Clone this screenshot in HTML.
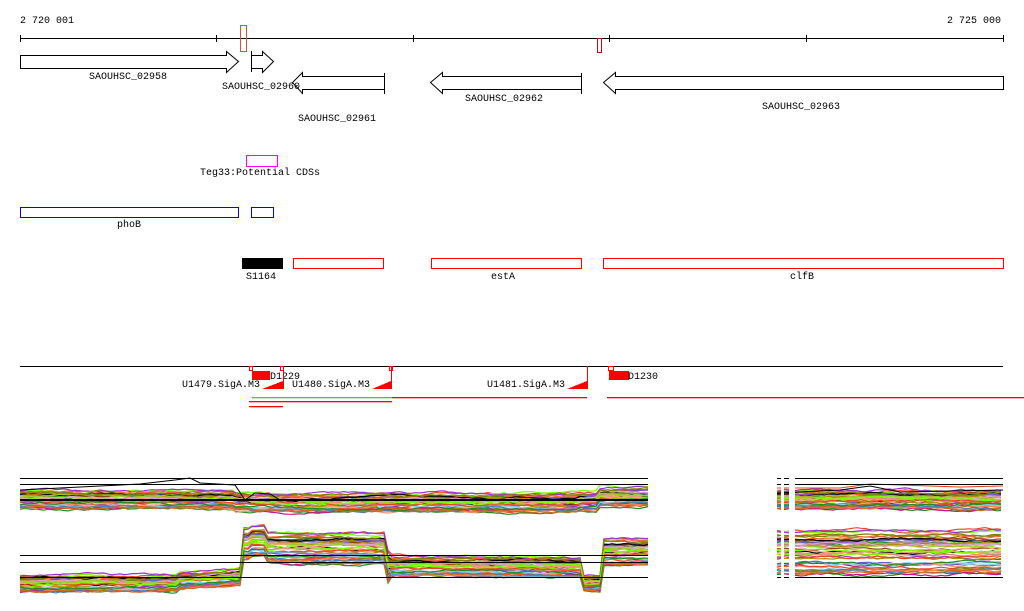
<!DOCTYPE html>
<html><head><meta charset="utf-8"><style>
body{margin:0;background:#fff;width:1024px;height:611px;overflow:hidden}
svg{display:block}
text{font-family:"Liberation Mono",monospace;font-size:10px;fill:#000}
</style></head><body>
<svg id="s" width="1024" height="611" xmlns="http://www.w3.org/2000/svg" shape-rendering="crispEdges">
<text x="20" y="23">2 720 001</text>
<text x="947" y="23">2 725 000</text>
<line x1="20" y1="38.5" x2="1003" y2="38.5" stroke="#000"/>
<g stroke="#000">
<line x1="20.5" y1="35" x2="20.5" y2="42"/><line x1="216.5" y1="35" x2="216.5" y2="42"/><line x1="413.5" y1="35" x2="413.5" y2="42"/><line x1="609.5" y1="35" x2="609.5" y2="42"/><line x1="806.5" y1="35" x2="806.5" y2="42"/><line x1="1003.5" y1="35" x2="1003.5" y2="42"/>
</g>
<rect x="240.5" y="25.5" width="6" height="26" fill="none" stroke="#e05030"/>
<rect x="597.5" y="38.5" width="4" height="14" fill="none" stroke="#b01010"/>
<g fill="#fff" stroke="#000" shape-rendering="auto">
<polygon points="20.5,55.5 226.5,55.5 226.5,51.5 238.5,61.5 226.5,72.5 226.5,68.5 20.5,68.5"/>
<polygon points="251.5,55.5 262.5,55.5 262.5,51.5 273.5,61.5 262.5,72.5 262.5,68.5 251.5,68.5"/>
<polygon points="384.5,76.5 302.5,76.5 302.5,72.5 292.5,82.5 302.5,93.5 302.5,89.5 384.5,89.5"/>
<polygon points="581.5,76.5 442.5,76.5 442.5,72.5 430.5,82.5 442.5,93.5 442.5,89.5 581.5,89.5"/>
<polygon points="1003.5,76.5 615.5,76.5 615.5,72.5 603.5,82.5 615.5,93.5 615.5,89.5 1003.5,89.5"/>
</g>
<g stroke="#000"><line x1="251.5" y1="51" x2="251.5" y2="72"/><line x1="384.5" y1="73" x2="384.5" y2="94"/><line x1="581.5" y1="73" x2="581.5" y2="94"/></g>
<text x="89" y="79">SAOUHSC_02958</text>
<text x="222" y="89">SAOUHSC_02960</text>
<text x="298" y="121">SAOUHSC_02961</text>
<text x="465" y="101">SAOUHSC_02962</text>
<text x="762" y="109">SAOUHSC_02963</text>
<rect x="246.5" y="155.5" width="31" height="11" fill="none" stroke="#f0f"/>
<text x="200" y="175">Teg33:Potential CDSs</text>
<rect x="20.5" y="207.5" width="218" height="10" fill="none" stroke="#00f"/>
<rect x="251.5" y="207.5" width="22" height="10" fill="none" stroke="#00f"/>
<text x="117" y="227">phoB</text>
<rect x="242" y="258" width="41" height="11" fill="#000"/>
<rect x="293.5" y="258.5" width="90" height="10" fill="none" stroke="#f00"/>
<rect x="431.5" y="258.5" width="150" height="10" fill="none" stroke="#f00"/>
<rect x="603.5" y="258.5" width="400" height="10" fill="none" stroke="#f00"/>
<text x="246" y="279">S1164</text>
<text x="491" y="279">estA</text>
<text x="790" y="279">clfB</text>
<line x1="20" y1="366.5" x2="1003" y2="366.5" stroke="#000"/>
<g fill="none" stroke="#f00">
<rect x="249.5" y="366.5" width="3" height="4"/><rect x="280.5" y="366.5" width="3" height="4"/><rect x="389.5" y="366.5" width="3" height="4"/><rect x="608.5" y="366.5" width="5" height="4"/>
</g>
<rect x="252" y="371" width="18" height="9" fill="#f00"/>
<rect x="609" y="371" width="20" height="9" fill="#f00"/>
<text x="270" y="379">D1229</text>
<text x="628" y="379">D1230</text>
<g fill="#f00"><polygon points="262,389 283,381 283,389"/><polygon points="372,389 391,381 391,389"/><polygon points="567,389 587,381 587,389"/></g>
<g stroke="#f00"><line x1="283.5" y1="366" x2="283.5" y2="389"/><line x1="391.5" y1="366" x2="391.5" y2="389"/><line x1="587.5" y1="366" x2="587.5" y2="389"/></g>
<text x="182" y="387">U1479.SigA.M3</text>
<text x="292" y="387">U1480.SigA.M3</text>
<text x="487" y="387">U1481.SigA.M3</text>
<g shape-rendering="auto">
<rect x="252" y="397" width="140" height="1.3" fill="#2d2"/>
<rect x="392" y="397" width="195" height="1.3" fill="#f00"/>
<rect x="607" y="397" width="417" height="1.3" fill="#f00"/>
<rect x="249" y="401" width="143" height="1.3" fill="#f00"/>
<rect x="249" y="406" width="34" height="1.3" fill="#f00"/>
</g>
<g id="plots" fill="none" stroke-width="1" shape-rendering="auto"></g>
<g stroke="#000">
<line x1="20" y1="478.5" x2="648" y2="478.5"/><line x1="20" y1="484.5" x2="648" y2="484.5"/>
<line x1="20" y1="555.5" x2="648" y2="555.5"/><line x1="20" y1="562.5" x2="648" y2="562.5"/><line x1="20" y1="577.5" x2="648" y2="577.5"/>
<line x1="777" y1="478.5" x2="1003" y2="478.5"/><line x1="777" y1="484.5" x2="1003" y2="484.5"/>
<line x1="777" y1="577.5" x2="1003" y2="577.5"/>
</g>
<g fill="#fff"><rect x="781" y="470" width="3" height="130"/><rect x="789" y="470" width="6" height="130"/></g>
</svg>
<script>
var seed=7;function r(){seed=(seed*16807)%2147483647;return seed/2147483647;}
var cols=['#e8462a','#d2691e','#808000','#7cfc00','#228b22','#9932cc','#c71585','#ff7f50','#87ceeb','#8b4513','#bc8f8f','#ff6347','#6a5acd','#000','#ffa07a','#b8860b','#dda0dd','#4682b4','#e9967a','#9acd32'];
var g=document.getElementById('plots');
function line(pts,c,w){var p=document.createElementNS('http://www.w3.org/2000/svg','polyline');p.setAttribute('points',pts.join(' '));p.setAttribute('stroke',c);if(w)p.setAttribute('stroke-width',w);g.appendChild(p);}
function topc(x){return x<235?500:x<250?502:x<580?503:x<600?502:497;}
function botc(x){if(x<180)return 584;if(x<244)return 581-(x-180)*0.06;if(x<250)return 545;if(x<268)return 542;if(x<385)return 549;if(x<392)return 568;if(x<582)return 567;if(x<602)return 583;return 552;}
function bspread(x){if(x<244)return 8;if(x<392)return 15;if(x<582)return 10;if(x<602)return 8;return 14;}
for(var i=0;i<45;i++){var c=cols[i%cols.length];var o=r()*2-1;var pts=[];var yo=0;
 for(var x=20;x<=648;x+=4){yo+= (r()-0.5)*2;yo*=0.9;pts.push(x+','+(topc(x)+o*9+yo).toFixed(1));}
 line(pts,c,1.2);
 pts=[];yo=0;for(var x=20;x<=648;x+=4){yo+=(r()-0.5)*2;yo*=0.9;pts.push(x+','+(botc(x)+o*bspread(x)+yo).toFixed(1));}
 line(pts,c,1.2);
 pts=[];yo=0;for(var x=777;x<=1003;x+=4){yo+=(r()-0.5)*2;yo*=0.9;pts.push(x+','+(500+o*9+yo).toFixed(1));}
 line(pts,c,1.2);
 pts=[];yo=0;for(var x=777;x<=1003;x+=4){yo+=(r()-0.5)*2;yo*=0.9;pts.push(x+','+(553+o*22+yo).toFixed(1));}
 line(pts,c,1.2);}
line(['20,490','60,488','100,486','140,484','175,480','190,478','200,483','235,485','245,500','255,493','270,494','280,500','648,500'],'#000');
line(['20,500','648,500'],'#000',2);
line(['250,555','262,552','380,555','392,575','582,577'],'#6ab0e0');
line(['777,493','840,490','870,486','900,492','1003,490'],'#000');
line(['777,488','840,488','870,484','960,487','1003,486'],'#e04020');
</script>
</body></html>
